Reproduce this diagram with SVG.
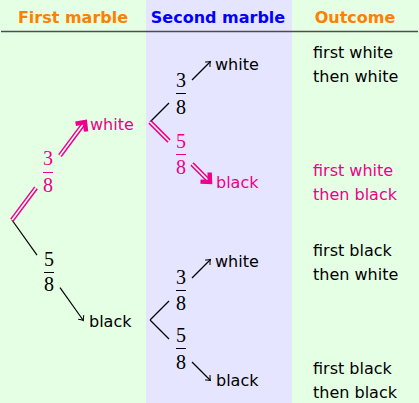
<svg xmlns="http://www.w3.org/2000/svg" width="419" height="403" viewBox="0 0 419 403">
<defs>
<style>
.t{font-family:"DejaVu Sans",sans-serif;font-size:16px;fill:#000}
.p{fill:#ec008c}
.h{font-family:"DejaVu Sans",sans-serif;font-size:16px;font-weight:bold;text-anchor:middle}
.f{font-family:"Liberation Serif",serif;font-size:20px;text-anchor:middle}
.bl{stroke:#000;stroke-width:1.2;fill:none}
.po{stroke:#ec008c;stroke-width:4.6;fill:none}
.pi{stroke:#ffffff;stroke-width:1.6;fill:none}
.bar{stroke-width:1}
</style>
<marker id="ab" markerUnits="userSpaceOnUse" markerWidth="10" markerHeight="10" refX="0" refY="0" orient="auto" overflow="visible">
<path d="M -3.5,-3.5 Q -1,-0.8 0.6,0 Q -1,0.8 -3.5,3.5" stroke="#000" stroke-width="1" fill="none"/>
</marker>
<marker id="ap" markerUnits="userSpaceOnUse" markerWidth="20" markerHeight="20" refX="0" refY="0" orient="auto" overflow="visible">
<path d="M -5,-6.5 L 2,0 L -5,6.5" stroke="#ec008c" stroke-width="4.4" fill="none" stroke-linejoin="miter"/>
</marker>
</defs>
<rect x="0" y="0" width="419" height="403" fill="#e5ffe5"/>
<rect x="146" y="0" width="146" height="403" fill="#e5e5ff"/>
<g id="header">
<text class="h" x="73" y="23" fill="#ff8000">First marble</text>
<text class="h" x="218" y="23" fill="#0000ff">Second marble</text>
<text class="h" x="355" y="23" fill="#ff8000">Outcome</text>
<line x1="1" y1="31.5" x2="418" y2="31.5" stroke="#4d4d4d" stroke-width="1.5"/>
</g>
<g id="connectors">
<line class="bl" x1="12" y1="220" x2="37" y2="255.2"/>
<line class="bl" x1="60" y1="287.6" x2="83" y2="320" marker-end="url(#ab)"/>
<line class="po" x1="12" y1="220" x2="36" y2="187.8"/>
<line class="pi" x1="12" y1="220" x2="36" y2="187.8"/>
<line class="po" x1="60" y1="155.6" x2="83.8" y2="123.6"/>
<line class="pi" x1="60" y1="155.6" x2="83.8" y2="123.6" marker-end="url(#ap)"/>
<line class="bl" x1="150" y1="122" x2="169" y2="103"/>
<line class="bl" x1="192" y1="80" x2="210" y2="62" marker-end="url(#ab)"/>
<line class="po" x1="150" y1="122" x2="169" y2="141"/>
<line class="pi" x1="150" y1="122" x2="169" y2="141"/>
<line class="po" x1="192" y1="164" x2="208.6" y2="180.6"/>
<line class="pi" x1="192" y1="164" x2="208.6" y2="180.6" marker-end="url(#ap)"/>
<line class="bl" x1="150" y1="320" x2="169" y2="301"/>
<line class="bl" x1="192" y1="278" x2="210" y2="260" marker-end="url(#ab)"/>
<line class="bl" x1="150" y1="320" x2="169" y2="339"/>
<line class="bl" x1="192" y1="362" x2="210" y2="380" marker-end="url(#ab)"/>
<g id="lbl-a">
<text class="f" x="48" y="165" fill="#ec008c">3</text>
<line x1="43" y1="172.5" x2="53" y2="172.5" stroke="#ec008c" class="bar"/>
<text class="f" x="48" y="192" fill="#ec008c">8</text>
</g>
<g id="lbl-b">
<text class="f" x="49" y="266">5</text>
<line x1="44" y1="272.5" x2="54" y2="272.5" stroke="#000" class="bar"/>
<text class="f" x="49" y="291">8</text>
</g>
<g id="lbl-c">
<text class="f" x="181" y="87">3</text>
<line x1="176" y1="93.5" x2="186" y2="93.5" stroke="#000" class="bar"/>
<text class="f" x="181" y="114">8</text>
</g>
<g id="lbl-d">
<text class="f" x="181" y="148" fill="#ec008c">5</text>
<line x1="176" y1="154.5" x2="186" y2="154.5" stroke="#ec008c" class="bar"/>
<text class="f" x="181" y="174" fill="#ec008c">8</text>
</g>
<g id="lbl-e">
<text class="f" x="181" y="284">3</text>
<line x1="176" y1="290.5" x2="186" y2="290.5" stroke="#000" class="bar"/>
<text class="f" x="181" y="310">8</text>
</g>
<g id="lbl-f">
<text class="f" x="181" y="342">5</text>
<line x1="176" y1="348.5" x2="186" y2="348.5" stroke="#000" class="bar"/>
<text class="f" x="181" y="369">8</text>
</g>
</g>
<g id="node-white1"><text class="t p" x="90" y="130">white</text></g>
<g id="node-black1"><text class="t" x="89" y="327">black</text></g>
<g id="node-ww"><text class="t" x="215" y="70">white</text></g>
<g id="node-wb"><text class="t p" x="216" y="188">black</text></g>
<g id="node-bw"><text class="t" x="215" y="267">white</text></g>
<g id="node-bb"><text class="t" x="216" y="386">black</text></g>
<g id="out-ww"><text class="t" x="313" y="58">first white</text><text class="t" x="313" y="82">then white</text></g>
<g id="out-wb"><text class="t p" x="313" y="176">first white</text><text class="t p" x="313" y="200">then black</text></g>
<g id="out-bw"><text class="t" x="313" y="256">first black</text><text class="t" x="313" y="280">then white</text></g>
<g id="out-bb"><text class="t" x="313" y="374">first black</text><text class="t" x="313" y="398">then black</text></g>
</svg>
